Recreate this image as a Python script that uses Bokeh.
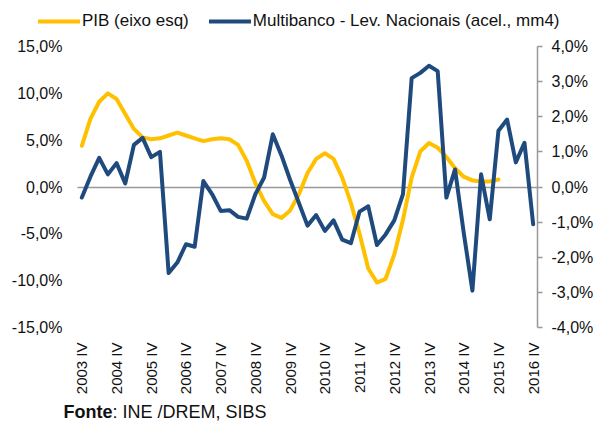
import math
from bokeh.plotting import figure
from bokeh.models import (Range1d, LinearAxis, FixedTicker, Legend, LegendItem, Label)
from bokeh.embed import file_html
from bokeh.resources import INLINE

# ---- data ----
quarters = ["2003 IV", "2004 I", "2004 II", "2004 III", "2004 IV",
            "2005 I", "2005 II", "2005 III", "2005 IV",
            "2006 I", "2006 II", "2006 III", "2006 IV",
            "2007 I", "2007 II", "2007 III", "2007 IV",
            "2008 I", "2008 II", "2008 III", "2008 IV",
            "2009 I", "2009 II", "2009 III", "2009 IV",
            "2010 I", "2010 II", "2010 III", "2010 IV",
            "2011 I", "2011 II", "2011 III", "2011 IV",
            "2012 I", "2012 II", "2012 III", "2012 IV",
            "2013 I", "2013 II", "2013 III", "2013 IV",
            "2014 I", "2014 II", "2014 III", "2014 IV",
            "2015 I", "2015 II", "2015 III", "2015 IV",
            "2016 I", "2016 II", "2016 III", "2016 IV"]

pib = [4.4, 7.3, 9.1, 10.0, 9.4, 7.8, 6.2, 5.3, 5.1, 5.2,
       5.5, 5.8, 5.5, 5.2, 4.9, 5.1, 5.2, 5.1, 4.5, 2.8,
       0.4, -1.5, -2.9, -3.3, -2.5, -0.8, 1.5, 3.0, 3.6, 3.0,
       1.0, -1.7, -5.0, -8.7, -10.2, -9.8, -7.2, -3.5, 1.0, 3.8,
       4.7, 4.2, 3.2, 2.0, 1.1, 0.7, 0.6, 0.6, 0.8]

multibanco = [-0.3, 0.3, 0.83, 0.36, 0.68, 0.1, 1.2, 1.4, 0.85, 1.0,
              -2.45, -2.15, -1.63, -1.7, 0.17, -0.2, -0.68, -0.66, -0.85, -0.9,
              -0.2, 0.27, 1.5, 0.9, 0.2, -0.45, -1.1, -0.8, -1.25, -0.95,
              -1.5, -1.6, -0.7, -0.55, -1.65, -1.35, -0.95, -0.2, 3.1, 3.25,
              3.45, 3.3, -0.3, 0.5, -1.3, -2.95, 0.36, -0.92, 1.6, 1.92,
              0.7, 1.26, -1.06]

left_ticks = [-15, -10, -5, 0, 5, 10, 15]
left_labels = ["-15,0%", "-10,0%", "-5,0%", "0,0%", "5,0%", "10,0%", "15,0%"]
right_ticks = [-4, -3, -2, -1, 0, 1, 2, 3, 4]
right_labels = ["-4,0%", "-3,0%", "-2,0%", "-1,0%", "0,0%", "1,0%", "2,0%", "3,0%", "4,0%"]

YELLOW = "#FFC000"
BLUE = "#1F4A7E"
GRID = "#999999"
TXT = "#111111"
FONT = "Liberation Sans"

# ---- layout (pixels of the plotting area inside the canvas) ----
W, H = 596, 421
PX_L, PX_R, PX_T, PX_B = 77, 537, 46, 327
n = len(quarters)
ux = n / (PX_R - PX_L)
x_start = -0.5 - PX_L * ux
x_end = n - 0.5 + (W - PX_R) * ux
uy = 30 / (PX_B - PX_T)
y_end = 15 + PX_T * uy
y_start = -15 - (H - PX_B) * uy
uyr = 8 / (PX_B - PX_T)
yr_end = 4 + PX_T * uyr
yr_start = -4 - (H - PX_B) * uyr

xi_pib = list(range(len(pib)))
xi_mb = list(range(len(multibanco)))

p = figure(width=W, height=H, output_backend="svg", toolbar_location=None,
           x_range=Range1d(x_start, x_end), y_range=Range1d(y_start, y_end),
           x_axis_location=None, y_axis_location=None,
           min_border_left=0, min_border_right=0, min_border_top=0, min_border_bottom=0)
p.outline_line_color = None
p.grid.visible = False
p.background_fill_color = "white"
p.border_fill_color = "white"
p.extra_y_ranges = {"right": Range1d(yr_start, yr_end)}

# zero line (as a bounded axis line)
zero_ax = LinearAxis(fixed_location=0, bounds=(-0.5, n - 0.5), ticker=FixedTicker(ticks=[]),
                     axis_line_color=GRID, axis_line_width=1.5,
                     major_tick_line_color=None, minor_tick_line_color=None)
zero_ax.level = "underlay"
p.add_layout(zero_ax, "below")

r1 = p.line(xi_pib, pib, line_color=YELLOW, line_width=4, line_join="round", line_cap="round")
r2 = p.line(xi_mb, multibanco, line_color=BLUE, line_width=4, line_join="round", line_cap="round",
            y_range_name="right")

# x axis
xa = LinearAxis(fixed_location=-15, ticker=FixedTicker(ticks=list(range(0, n, 4))))
xa.major_label_overrides = {i: quarters[i] for i in range(0, n, 4)}
xa.major_label_orientation = math.pi / 2
xa.axis_line_color = None
xa.major_tick_line_color = None
xa.minor_tick_line_color = None
xa.major_tick_out = 0
xa.major_tick_in = 0
xa.major_label_standoff = 15
xa.major_label_text_font = FONT
xa.major_label_text_font_size = "15px"
xa.major_label_text_color = TXT
p.add_layout(xa, "below")

# left axis
ya = LinearAxis(fixed_location=-0.5, ticker=FixedTicker(ticks=left_ticks))
ya.major_label_overrides = dict(zip(left_ticks, left_labels))
ya.axis_line_color = None
ya.major_tick_line_color = None
ya.minor_tick_line_color = None
ya.major_tick_out = 0
ya.major_tick_in = 0
ya.major_label_standoff = 15
ya.major_label_text_font = FONT
ya.major_label_text_font_size = "16px"
ya.major_label_text_color = TXT
p.add_layout(ya, "left")

# right axis
ra = LinearAxis(y_range_name="right", fixed_location=n - 0.5, bounds=(-4, 4),
                ticker=FixedTicker(ticks=right_ticks))
ra.major_label_overrides = dict(zip(right_ticks, right_labels))
ra.axis_line_color = GRID
ra.axis_line_width = 1.5
ra.major_tick_line_color = GRID
ra.major_tick_line_width = 1.5
ra.major_tick_out = 5
ra.major_tick_in = 0
ra.minor_tick_line_color = None
ra.major_label_standoff = 9
ra.major_label_text_font = FONT
ra.major_label_text_font_size = "16px"
ra.major_label_text_color = TXT
p.add_layout(ra, "right")

legend = Legend(items=[LegendItem(label="PIB (eixo esq)", renderers=[r1]),
                       LegendItem(label="Multibanco - Lev. Nacionais (acel., mm4)", renderers=[r2])],
                location=(38, H - 31), orientation="horizontal",
                glyph_width=42, glyph_height=20, label_standoff=2, spacing=20,
                padding=0, margin=0, border_line_color=None, background_fill_alpha=0,
                label_text_font=FONT, label_text_font_size="17px", label_text_color=TXT)
p.add_layout(legend, "center")

p.add_layout(Label(x=63, y=10, x_units="screen", y_units="screen", text="Fonte",
                   text_font=FONT, text_font_size="18px", text_font_style="bold",
                   text_color=TXT, text_baseline="alphabetic"))
p.add_layout(Label(x=63 + 49, y=10, x_units="screen", y_units="screen", text=": INE /DREM, SIBS",
                   text_font=FONT, text_font_size="18px",
                   text_color=TXT, text_baseline="alphabetic"))

open("out.html", "w").write(file_html(p, INLINE))
